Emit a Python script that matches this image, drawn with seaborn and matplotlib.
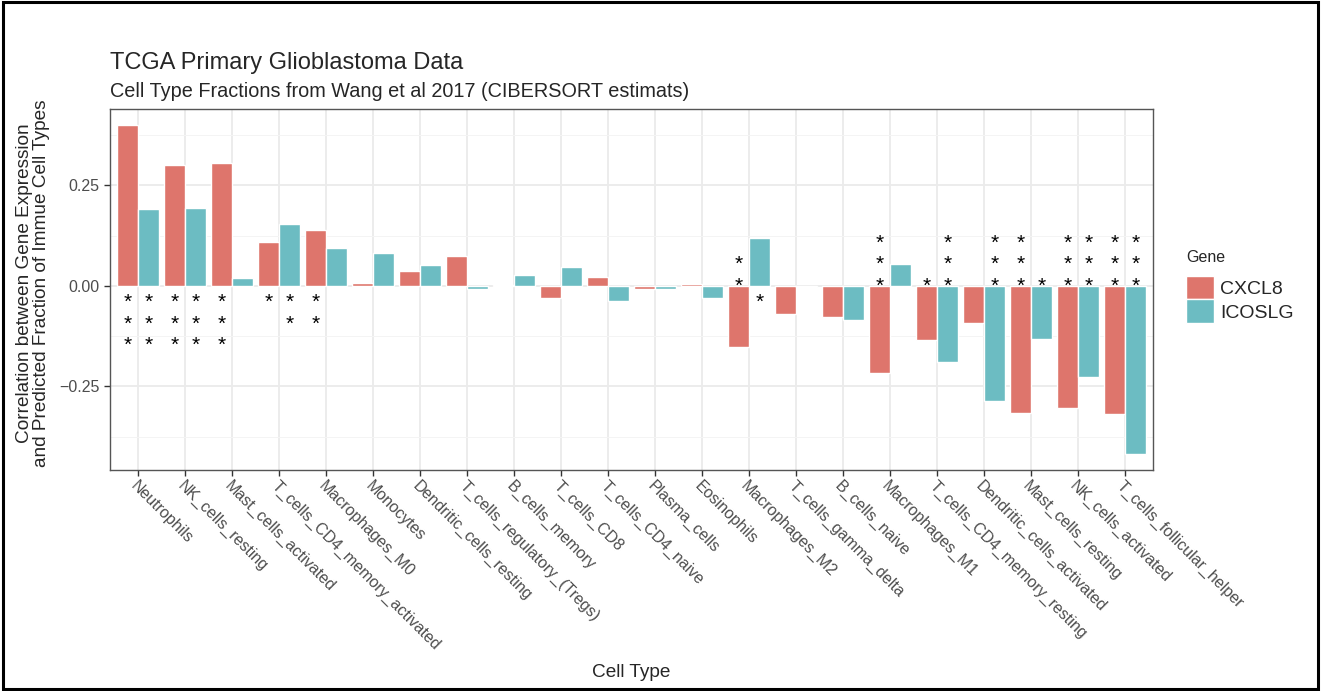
import numpy as np
import pandas as pd
import seaborn as sns
import matplotlib.pyplot as plt
from matplotlib.patches import Rectangle
from matplotlib.ticker import MultipleLocator

# values
cell_types = ["Neutrophils", "NK_cells_resting", "Mast_cells_activated", "T_cells_CD4_memory_activated",
              "Macrophages_M0", "Monocytes", "Dendritic_cells_resting", "T_cells_regulatory_(Tregs)",
              "B_cells_memory", "T_cells_CD8", "T_cells_CD4_naive", "Plasma_cells", "Eosinophils",
              "Macrophages_M2", "T_cells_gamma_delta", "B_cells_naive", "Macrophages_M1",
              "T_cells_CD4_memory_resting", "Dendritic_cells_activated", "Mast_cells_resting",
              "NK_cells_activated", "T_cells_follicular_helper"]
genes = ["CXCL8", "ICOSLG"]
cxcl8 = [0.399, 0.301, 0.305, 0.108, 0.140, 0.008, 0.037, 0.075, 0.003, -0.030, 0.021,
         -0.009, 0.004, -0.153, -0.069, -0.077, -0.217, -0.135, -0.092, -0.316, -0.303, -0.319]
icoslg = [0.192, 0.194, 0.020, 0.153, 0.094, 0.081, 0.051, -0.007, 0.027, 0.046, -0.038,
          -0.008, -0.031, 0.120, -0.004, -0.084, 0.055, -0.189, -0.286, -0.133, -0.227, -0.418]
stars_cxcl8 = ["***", "***", "***", "*", "**", "", "", "", "", "", "",
               "", "", "**", "", "", "***", "*", "", "***", "***", "***"]
stars_icoslg = ["***", "***", "", "**", "", "", "", "", "", "", "",
                "", "", "*", "", "", "", "***", "***", "*", "***", "***"]

df = pd.DataFrame({
    'Cell Type': cell_types * 2,
    'Gene': [genes[0]] * len(cell_types) + [genes[1]] * len(cell_types),
    'cor': cxcl8 + icoslg,
})

sns.set_style('white')
plt.rcParams['font.family'] = ['Liberation Sans', 'DejaVu Sans']

fig = plt.figure(figsize=(13.22, 6.91), dpi=100)
ax = fig.add_axes([110 / 1322, 1 - 470 / 691, (1153 - 110) / 1322, (470 - 109) / 691])

palette = {'CXCL8': '#DE756C', 'ICOSLG': '#6CBCC2'}
sns.barplot(data=df, x='Cell Type', y='cor', hue='Gene', order=cell_types, hue_order=genes,
            palette=palette, width=0.9, gap=0, saturation=1, ax=ax, zorder=2)

ax.set_xlim(-0.6, len(cell_types) - 0.4)
ax.set_ylim(-0.458, 0.44)
ax.yaxis.set_major_locator(MultipleLocator(0.25))
ax.yaxis.set_minor_locator(MultipleLocator(0.125))
ax.set_yticks([-0.25, 0, 0.25])
ax.set_yticklabels(['\u22120.25', '0.00', '0.25'])
ax.grid(True, which='major', color='#EBEBEB', lw=1.3, zorder=0)
ax.grid(True, which='minor', axis='y', color='#F4F4F4', lw=0.7, zorder=0)
ax.set_axisbelow(True)
for s in ax.spines.values():
    s.set_color('#555555')
    s.set_linewidth(1.0)

ax.tick_params(axis='both', which='major', direction='out', length=4, width=1, color='#333333',
               labelsize=11.5, labelcolor='#4D4D4D', bottom=True, left=True)
ax.tick_params(axis='y', which='minor', length=0)
ax.tick_params(axis='x', pad=2)
plt.setp(ax.get_xticklabels(), rotation=-45, ha='left', va='top', rotation_mode='anchor')
ax.set_xlabel('')
ax.set_ylabel('')

# significance stars, stacked on the side opposite to the bar
for container, stars in zip(ax.containers, [stars_cxcl8, stars_icoslg]):
    for bar, st in zip(container, stars):
        xc = bar.get_x() + bar.get_width() / 2
        sign = -1 if bar.get_height() >= 0 else 1
        for k in range(len(st)):
            ax.annotate('*', (xc, 0), xytext=(0, sign * (6 + 15.3 * k) - 10),
                        textcoords='offset points', ha='center', va='baseline',
                        fontsize=15, color='black', zorder=3)

handles, labels = ax.get_legend_handles_labels()
ax.legend(handles, labels, title='Gene', loc='upper left', bbox_to_anchor=(1.024, 0.632),
          frameon=False, fontsize=14, title_fontsize=11.5, handlelength=1.45, handleheight=1.5,
          handletextpad=0.3, labelspacing=0.0, borderaxespad=0)
ax.get_legend()._legend_box.align = 'left'
ax.get_legend()._legend_box.sep = 8

fig.text(110 / 1322, 1 - 69 / 691, 'TCGA Primary Glioblastoma Data', fontsize=17, ha='left', va='baseline')
fig.text(110 / 1322, 1 - 97 / 691, 'Cell Type Fractions from Wang et al 2017 (CIBERSORT estimats)',
         fontsize=14.3, ha='left', va='baseline')
fig.text(33 / 1322, 1 - 283 / 691,
         'Correlation between Gene Expression\nand Predicted Fraction of Immue Cell Types',
         fontsize=13.7, rotation=90, ha='center', va='center', multialignment='center', linespacing=1.05)
fig.text(631 / 1322, 1 - 677 / 691, 'Cell Type', fontsize=13.7, ha='center', va='baseline')

fig.add_artist(Rectangle((0.002, 0.003), 0.995, 0.994, transform=fig.transFigure,
                         fill=False, edgecolor='black', lw=2.2))

fig.savefig('out.png', dpi=100)
